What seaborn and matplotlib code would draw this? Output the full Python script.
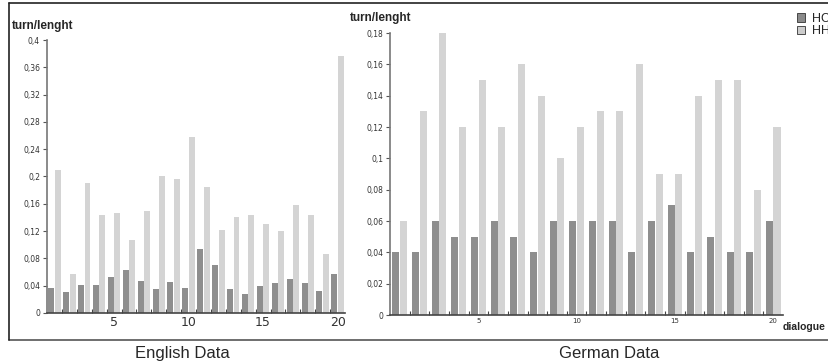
import matplotlib
matplotlib.use("Agg")
import matplotlib.pyplot as plt
from matplotlib.lines import Line2D
from matplotlib.patches import Patch
from matplotlib.ticker import FixedLocator, FuncFormatter
import numpy as np
import pandas as pd
import seaborn as sns

# dialogue numbers 1..20
dialogues = list(range(1, 21))
groups = ["HC", "HH"]

en_hc = [0.037, 0.031, 0.041, 0.041, 0.053, 0.063, 0.047, 0.035, 0.046, 0.037,
         0.094, 0.070, 0.035, 0.028, 0.039, 0.044, 0.050, 0.044, 0.032, 0.057]
en_hh = [0.210, 0.057, 0.190, 0.144, 0.147, 0.107, 0.150, 0.200, 0.196, 0.258,
         0.184, 0.122, 0.141, 0.144, 0.131, 0.120, 0.158, 0.143, 0.086, 0.377]

de_hc = [0.04, 0.04, 0.06, 0.05, 0.05, 0.06, 0.05, 0.04, 0.06, 0.06,
         0.06, 0.06, 0.04, 0.06, 0.07, 0.04, 0.05, 0.04, 0.04, 0.06]
de_hh = [0.06, 0.13, 0.18, 0.12, 0.15, 0.12, 0.16, 0.14, 0.10, 0.12,
         0.13, 0.13, 0.16, 0.09, 0.09, 0.14, 0.15, 0.15, 0.08, 0.12]

en_yticks = [0, 0.04, 0.08, 0.12, 0.16, 0.2, 0.24, 0.28, 0.32, 0.36, 0.4]
de_yticks = [0, 0.02, 0.04, 0.06, 0.08, 0.1, 0.12, 0.14, 0.16, 0.18]
x_labels = ["5", "10", "15", "20"]


def long_frame(hc, hh):
    return pd.DataFrame({
        "dialogue": dialogues * 2,
        "group": ["HC"] * 20 + ["HH"] * 20,
        "value": hc + hh,
    })


sns.set_style("white")
plt.rcParams["font.family"] = ["DejaVu Sans"]
colors = {"HC": "#8e8e8e", "HH": "#d4d4d4"}
comma = FuncFormatter(lambda v, _: f"{v:g}".replace(".", ","))

fig = plt.figure(figsize=(8.29, 3.62), dpi=100)
ax_en = fig.add_axes([0.0567, 0.1354, 0.3595, 0.7541])
ax_de = fig.add_axes([0.4704, 0.1298, 0.4741, 0.7790])


def draw(ax, df, ylim, yticks, width, xfs):
    sns.barplot(data=df, x="dialogue", y="value", hue="group", hue_order=groups,
                palette=colors, width=width, gap=0.08, saturation=1,
                linewidth=0, legend=False, ax=ax)
    ax.set_xlim(-0.5, 19.5)
    ax.set_ylim(*ylim)
    ax.set_xlabel("")
    ax.set_ylabel("")
    ax.set_yticks(yticks)
    ax.yaxis.set_major_formatter(comma)
    ax.tick_params(axis="y", length=3, width=0.8, color="#555555",
                   labelsize=5.5, labelcolor="#333333", pad=2, left=True)
    ax.xaxis.set_major_locator(FixedLocator([4, 9, 14, 19]))
    ax.set_xticklabels(x_labels)
    ax.xaxis.set_minor_locator(FixedLocator(np.arange(0.5, 19, 1.0)))
    ax.tick_params(axis="x", which="major", length=0, labelsize=xfs,
                   labelcolor="#333333", pad=2)
    ax.tick_params(axis="x", which="minor", direction="in", length=3,
                   width=0.8, color="#444444", bottom=True)
    for s in ["top", "right"]:
        ax.spines[s].set_visible(False)
    ax.spines["left"].set_color("#777777")
    ax.spines["bottom"].set_color("#444444")
    ax.spines["left"].set_linewidth(1.2)
    ax.spines["bottom"].set_linewidth(1.2)
    ax.patch.set_alpha(0)


draw(ax_en, long_frame(en_hc, en_hh), (0, 0.4), en_yticks, 0.87, 9)
draw(ax_de, long_frame(de_hc, de_hh), (0, 0.18), de_yticks, 0.78, 5)

# axis titles
fig.text(0.0145, 0.928, "turn/lenght", fontsize=8.5, family="Liberation Sans",
         weight="bold", va="center", ha="left")
fig.text(0.422, 0.95, "turn/lenght", fontsize=8.5, family="Liberation Sans",
         weight="bold", va="center", ha="left")
fig.text(0.944, 0.097, "dialogue", fontsize=7.5, family="Liberation Sans",
         weight="bold", va="center", ha="left")

# captions
fig.text(0.22, 0.024, "English Data", fontsize=12, family="Liberation Sans",
         ha="center", va="center")
fig.text(0.735, 0.024, "German Data", fontsize=12, family="Liberation Sans",
         ha="center", va="center")

# frame lines
fig.add_artist(Line2D([0.011, 1.0], [0.992, 0.992], color="#222222", lw=1.2))
fig.add_artist(Line2D([0.011, 1.0], [0.061, 0.061], color="#555555", lw=1.2))
fig.add_artist(Line2D([0.011, 0.011], [0.061, 0.992], color="#222222", lw=1.2))

handles = [Patch(facecolor="#8a8a8a", edgecolor="#333333", lw=0.6),
           Patch(facecolor="#cccccc", edgecolor="#333333", lw=0.6)]
fig.legend(handles, groups, loc="upper left", bbox_to_anchor=(0.961, 0.965),
           frameon=False, prop={"family": "Liberation Sans", "size": 9},
           handlelength=0.7, handleheight=0.7, handletextpad=0.5,
           labelspacing=0.05, borderpad=0, borderaxespad=0)

fig.savefig("out.png", dpi=100)
